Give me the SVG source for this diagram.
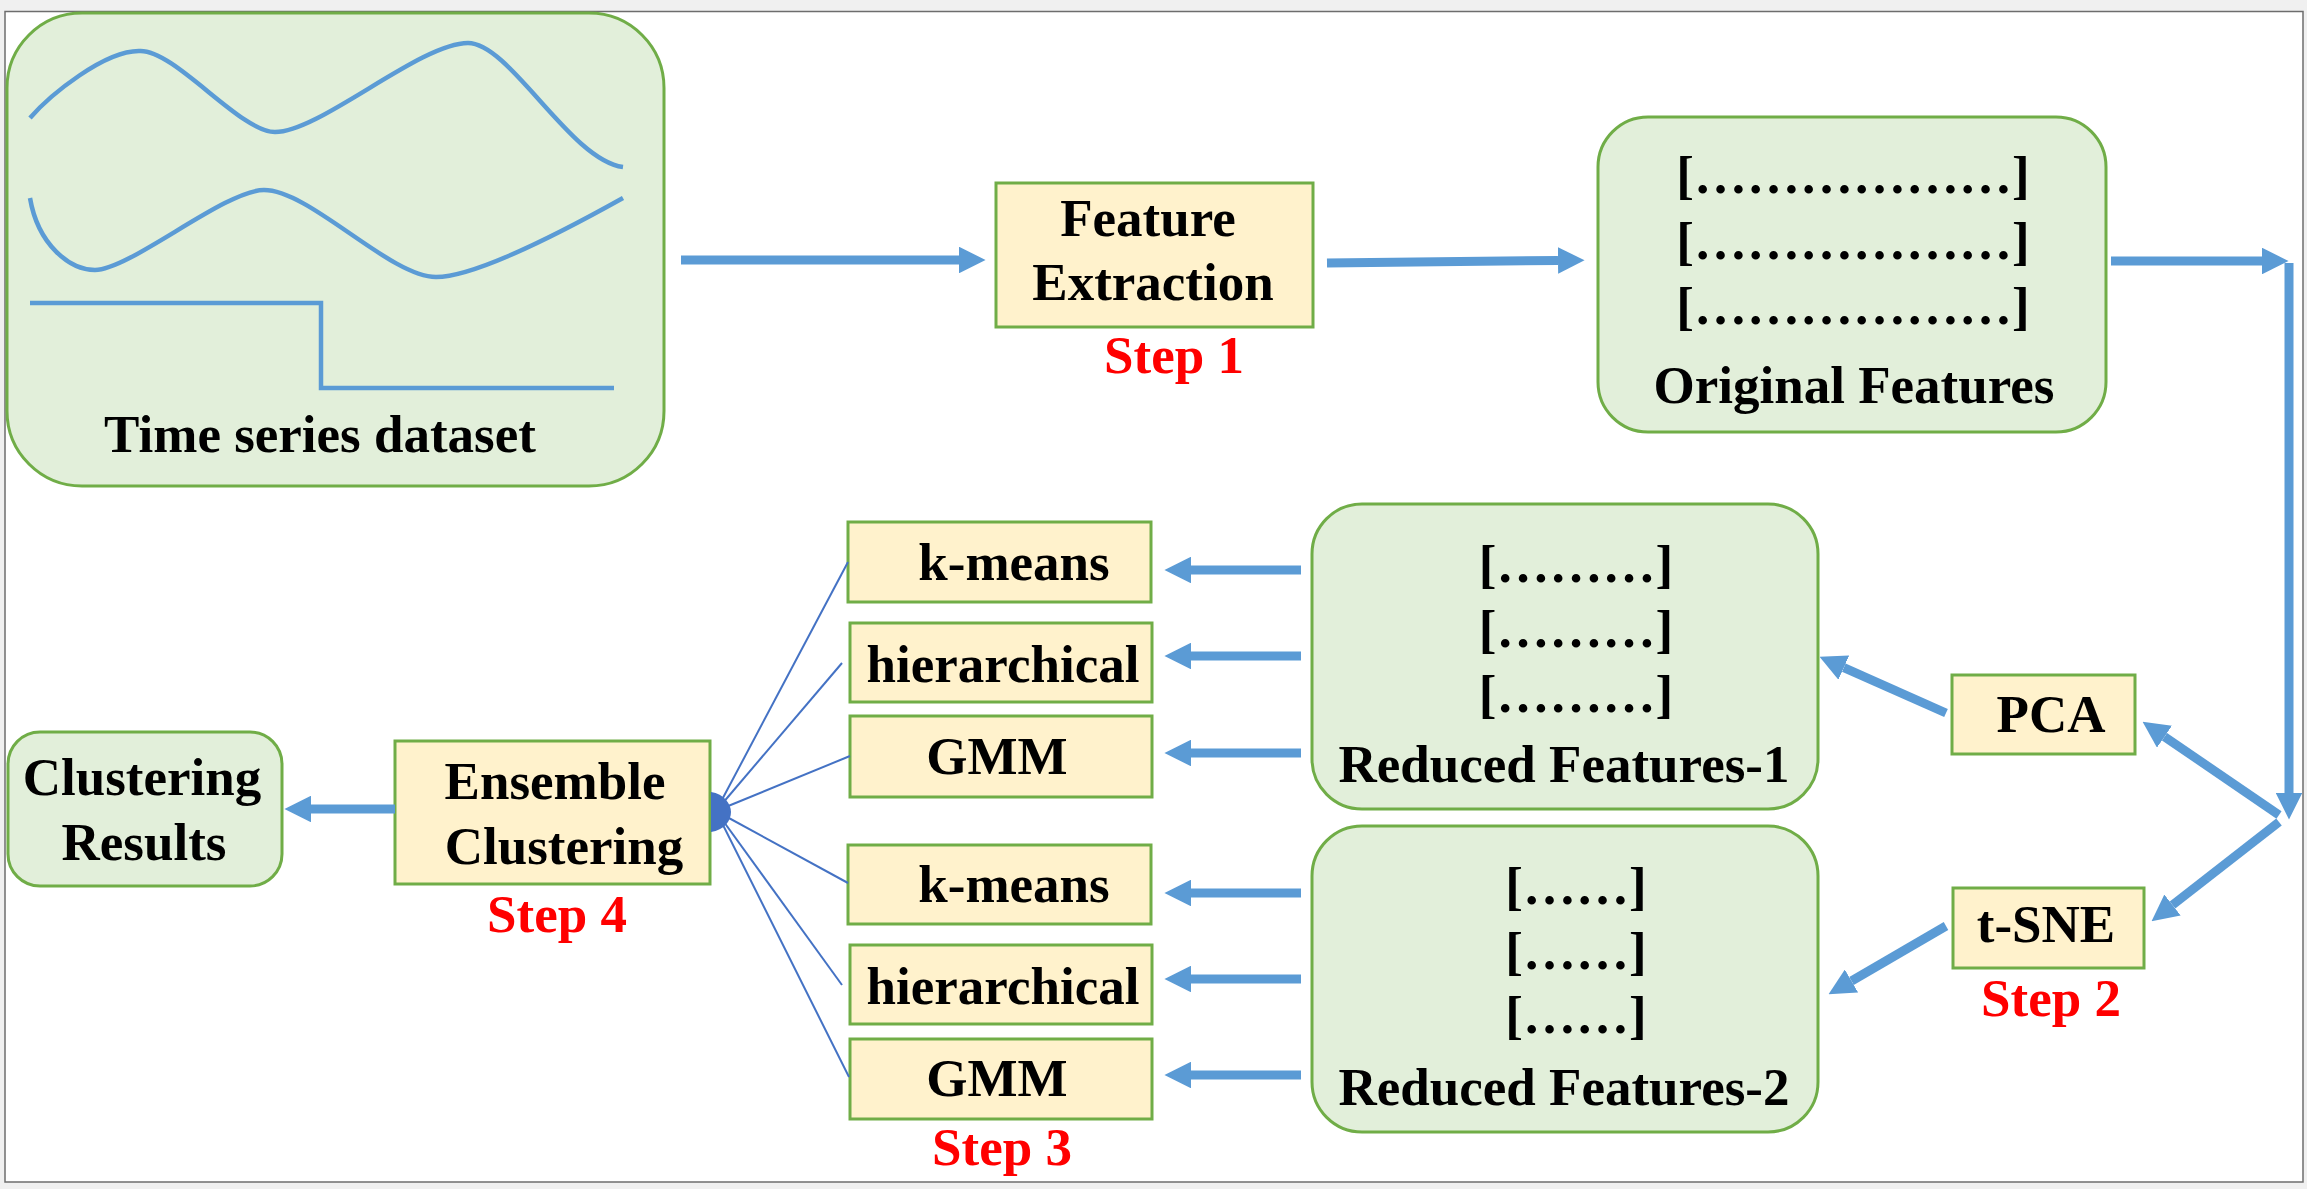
<svg xmlns="http://www.w3.org/2000/svg" width="2307" height="1189" viewBox="0 0 2307 1189">
<style>
.t{font-family:"Liberation Serif","Times New Roman",serif;font-weight:bold;font-size:53px;fill:#000;text-anchor:middle}
.red{fill:#ff0000}
.gbox{fill:#e2efda;stroke:#70ad47;stroke-width:3}
.ybox{fill:#fff2cc;stroke:#70ad47;stroke-width:3}
.wave{fill:none;stroke:#5b9bd5;stroke-width:4.5}
.arr{fill:none;stroke:#5b9bd5;stroke-width:9;marker-end:url(#ah)}
.fan{fill:none;stroke:#4472c4;stroke-width:2}
</style>
<defs>
<marker id="ah" viewBox="0 0 10 10" refX="0" refY="5" markerWidth="2.95" markerHeight="2.95" markerUnits="strokeWidth" orient="auto">
<path d="M0,0 L10,5 L0,10 z" fill="#5b9bd5"/>
</marker>
</defs>
<rect x="0" y="0" width="2307" height="1189" fill="#f0f0f0"/>
<rect x="5" y="11.5" width="2298" height="1170.5" fill="#ffffff" stroke="#6d6d6d" stroke-width="1.5"/>

<g id="time-series">
<rect class="gbox" x="7" y="13" width="657" height="473" rx="75" ry="75"/>
<path class="wave" d="M30,118 C50,95 105,50 140,51 C175,50 240,132 275,132 C320,132 420,43 468,43 C510,43 570,160 623,167"/>
<path class="wave" d="M30,198 C38,245 70,270 95,270 C130,270 225,190 264,190 C310,190 390,277 436,277 C480,277 580,222 623,198"/>
<path class="wave" d="M30,303 L321,303 L321,388 L614,388"/>
<text class="t" x="320" y="452">Time series dataset</text>
</g>

<g id="feature-extraction">
<rect class="ybox" x="996" y="183" width="317" height="144"/>
<text class="t" x="1148" y="236">Feature</text>
<text class="t" x="1153" y="300">Extraction</text>
<text class="t red" x="1174" y="373">Step 1</text>
</g>

<g id="original-features">
<rect class="gbox" x="1598" y="117" width="508" height="315" rx="50" ry="50"/>
<text class="t" x="1853" y="193">[………………]</text>
<text class="t" x="1853" y="259">[………………]</text>
<text class="t" x="1853" y="324">[………………]</text>
<text class="t" x="1854" y="403">Original Features</text>
</g>

<g id="pca">
<rect class="ybox" x="1952" y="675" width="183" height="79"/>
<text class="t" x="2051" y="732">PCA</text>
</g>

<g id="tsne">
<rect class="ybox" x="1953" y="888" width="191" height="80"/>
<text class="t" x="2046" y="942">t-SNE</text>
<text class="t red" x="2051" y="1016">Step 2</text>
</g>

<g id="reduced-features-1">
<rect class="gbox" x="1312" y="504" width="506" height="305" rx="50" ry="50"/>
<text class="t" x="1576" y="582">[………]</text>
<text class="t" x="1576" y="647">[………]</text>
<text class="t" x="1576" y="712">[………]</text>
<text class="t" x="1564" y="782">Reduced Features-1</text>
</g>

<g id="reduced-features-2">
<rect class="gbox" x="1312" y="826" width="506" height="306" rx="50" ry="50"/>
<text class="t" x="1576" y="904">[……]</text>
<text class="t" x="1576" y="969">[……]</text>
<text class="t" x="1576" y="1033">[……]</text>
<text class="t" x="1564" y="1105">Reduced Features-2</text>
</g>

<g id="kmeans-1">
<rect class="ybox" x="848" y="522" width="303" height="80"/>
<text class="t" x="1014" y="580">k-means</text>
</g>
<g id="hierarchical-1">
<rect class="ybox" x="850" y="623" width="302" height="79"/>
<text class="t" x="1003" y="682">hierarchical</text>
</g>
<g id="gmm-1">
<rect class="ybox" x="850" y="716" width="302" height="81"/>
<text class="t" x="997" y="774">GMM</text>
</g>
<g id="kmeans-2">
<rect class="ybox" x="848" y="845" width="303" height="79"/>
<text class="t" x="1014" y="902">k-means</text>
</g>
<g id="hierarchical-2">
<rect class="ybox" x="850" y="945" width="302" height="79"/>
<text class="t" x="1003" y="1004">hierarchical</text>
</g>
<g id="gmm-2">
<rect class="ybox" x="850" y="1039" width="302" height="80"/>
<text class="t" x="997" y="1096">GMM</text>
<text class="t red" x="1002" y="1165">Step 3</text>
</g>

<g id="ensemble-clustering">
<rect class="ybox" x="395" y="741" width="315" height="143"/>
<text class="t" x="555" y="799">Ensemble</text>
<text class="t" x="564" y="864">Clustering</text>
<text class="t red" x="557" y="932">Step 4</text>
</g>

<g id="clustering-results">
<rect class="gbox" x="8" y="732" width="274" height="154" rx="32" ry="32"/>
<text class="t" x="142" y="795">Clustering</text>
<text class="t" x="144" y="860">Results</text>
</g>

<g id="connectors">
<line class="arr" x1="681" y1="260" x2="959" y2="260"/>
<line class="arr" x1="1327" y1="263" x2="1558" y2="260.5"/>
<line class="arr" x1="2111" y1="261" x2="2262" y2="261"/>
<line class="arr" x1="2289" y1="263" x2="2289" y2="793"/>
<line class="arr" x1="2279" y1="815" x2="2164.5" y2="736.7"/>
<line class="arr" x1="2279" y1="822" x2="2172.5" y2="905"/>
<line class="arr" x1="1946" y1="713" x2="1843.8" y2="667.6"/>
<line class="arr" x1="1946" y1="926" x2="1851.5" y2="981"/>
<line class="arr" x1="1301" y1="570" x2="1191" y2="570"/>
<line class="arr" x1="1301" y1="656" x2="1191" y2="656"/>
<line class="arr" x1="1301" y1="753" x2="1191" y2="753"/>
<line class="arr" x1="1301" y1="893" x2="1191" y2="893"/>
<line class="arr" x1="1301" y1="979" x2="1191" y2="979"/>
<line class="arr" x1="1301" y1="1075" x2="1191" y2="1075"/>
<line class="arr" x1="395" y1="809" x2="311" y2="809"/>
<line class="fan" x1="716" y1="811" x2="848" y2="562"/>
<line class="fan" x1="716" y1="811" x2="842" y2="663"/>
<line class="fan" x1="716" y1="811" x2="850" y2="756"/>
<line class="fan" x1="716" y1="811" x2="848" y2="883"/>
<line class="fan" x1="716" y1="811" x2="842" y2="985"/>
<line class="fan" x1="716" y1="811" x2="849" y2="1077"/>
<path d="M711,792 C724,794 731,804 731,812 C731,821 724,830 711,832 Z" fill="#4472c4"/>
</g>
</svg>
